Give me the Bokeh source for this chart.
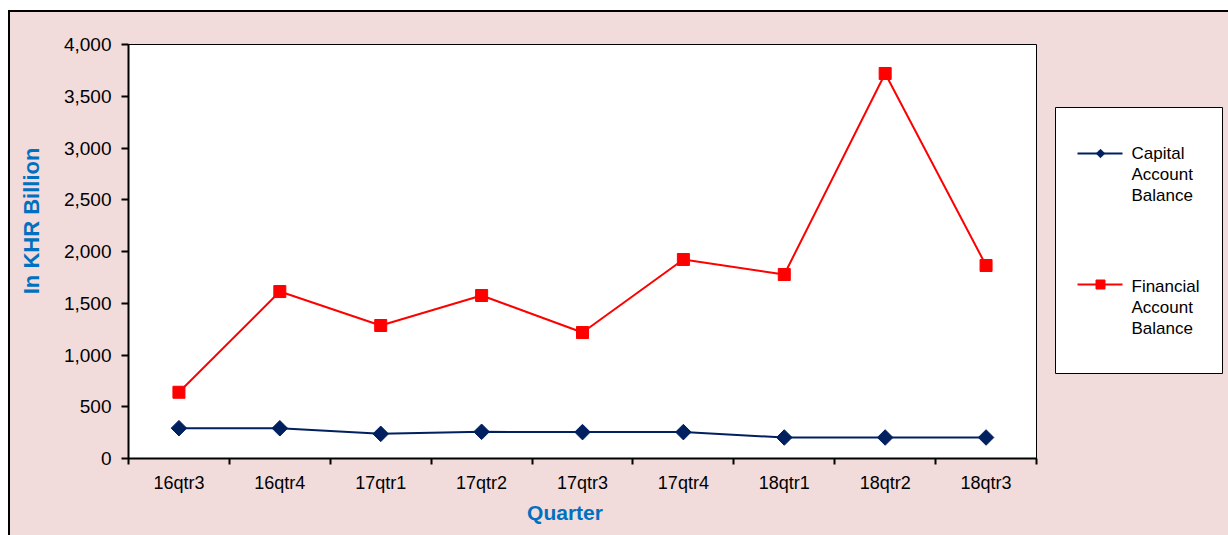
import numpy as np
from bokeh.plotting import figure
from bokeh.layouts import row
from bokeh.models import Range1d, FixedTicker, NumeralTickFormatter
from bokeh.core.properties import value
from bokeh.embed import file_html
from bokeh.resources import INLINE

quarters = ["16qtr3", "16qtr4", "17qtr1", "17qtr2", "17qtr3", "17qtr4", "18qtr1", "18qtr2", "18qtr3"]
capital = [293, 292, 238, 258, 255, 255, 203, 203, 203]
financial = [640, 1613, 1285, 1575, 1217, 1923, 1778, 3720, 1865]
y_ticks = [0, 500, 1000, 1500, 2000, 2500, 3000, 3500, 4000]
series_names = ["Capital\nAccount\nBalance", "Financial\nAccount\nBalance"]

CAP = "#002060"
FIN = "#FF0000"
PINK = "#F2DCDB"
FONT = "Liberation Sans"
NB = "\u00a0"

x = list(np.arange(len(quarters)) + 0.5)

p = figure(output_backend="svg", toolbar_location=None,
           frame_width=908, frame_height=414,
           min_border_left=118, min_border_top=32, min_border_bottom=77, min_border_right=2,
           x_range=Range1d(0, len(quarters)), y_range=Range1d(0, 4000))
p.background_fill_color = "white"
p.border_fill_color = PINK
p.outline_line_color = "black"
p.outline_line_width = 1
p.xgrid.visible = False
p.ygrid.visible = False

p.line(x, capital, line_color=CAP, line_width=2)
p.scatter(x, capital, marker="square", angle=np.pi / 4, size=11, fill_color=CAP, line_color=CAP)
p.line(x, financial, line_color=FIN, line_width=2)
p.scatter(x, financial, marker="square", size=12, fill_color=FIN, line_color=FIN)

# x axis
xa = p.xaxis[0]
xa.ticker = FixedTicker(ticks=x, minor_ticks=list(range(len(quarters) + 1)))
xa.major_label_overrides = {float(v): q for v, q in zip(x, quarters)}
xa.major_tick_out = 0
xa.major_tick_in = 0
xa.minor_tick_out = 6
xa.minor_tick_in = 0
xa.minor_tick_line_color = "black"
xa.minor_tick_line_width = 2
xa.axis_line_width = 2
xa.axis_line_color = "black"
xa.major_label_text_font = FONT
xa.major_label_text_font_size = "18px"
xa.major_label_text_color = "black"
xa.major_label_standoff = 8
xa.axis_label = "Quarter" + NB * 6
xa.axis_label_text_font = FONT
xa.axis_label_text_font_style = "bold"
xa.axis_label_text_font_size = "21px"
xa.axis_label_text_color = "#0070C0"
xa.axis_label_standoff = 5

# y axis
ya = p.yaxis[0]
ya.ticker = FixedTicker(ticks=y_ticks)
ya.formatter = NumeralTickFormatter(format="0,0")
ya.major_tick_out = 7
ya.major_tick_in = 0
ya.minor_tick_out = 0
ya.minor_tick_in = 0
ya.major_tick_line_width = 2
ya.axis_line_width = 2
ya.axis_line_color = "black"
ya.major_label_text_font = FONT
ya.major_label_text_font_size = "19px"
ya.major_label_text_color = "black"
ya.major_label_standoff = 10
ya.axis_label = NB * 10 + "In KHR Billion"
ya.axis_label_text_font = FONT
ya.axis_label_text_font_style = "bold"
ya.axis_label_text_font_size = "22px"
ya.axis_label_text_color = "#0070C0"
ya.axis_label_standoff = 17

# legend panel: a separate figure; its frame is aligned with the main frame
# (page pixels 44..458 vertically, 1038..1228 horizontally), y downwards
q = figure(output_backend="svg", toolbar_location=None, width=190, height=523,
           x_range=Range1d(1038, 1228), y_range=Range1d(458, 44),
           x_axis_type=None, y_axis_type=None, min_border=0)
q.background_fill_color = PINK
q.border_fill_color = PINK
q.outline_line_color = None
q.xgrid.visible = False
q.ygrid.visible = False

q.quad(left=[1055], right=[1222], top=[107], bottom=[373],
       fill_color="white", line_color="black", line_width=1)
key_y = [153, 284]
q.segment(x0=[1077, 1077], y0=key_y, x1=[1122, 1122], y1=key_y, line_color=[CAP, FIN], line_width=2)
q.scatter([1100], [key_y[0]], marker="square", angle=np.pi / 4, size=6, fill_color=CAP, line_color=CAP)
q.scatter([1100], [key_y[1]], marker="square", size=9, fill_color=FIN, line_color=FIN)
q.text(x=[1131, 1131], y=[143, 276], text=series_names,
       text_font=value(FONT), text_font_size="17px", text_color="black",
       text_baseline="top", text_align="left", text_line_height=1.12)

layout = row(p, q, styles={"margin-left": "8px", "margin-top": "10px", "background-color": PINK,
                           "border-left": "2px solid #000000", "border-top": "2px solid #000000"})

open("out.html", "w").write(file_html(layout, INLINE))
